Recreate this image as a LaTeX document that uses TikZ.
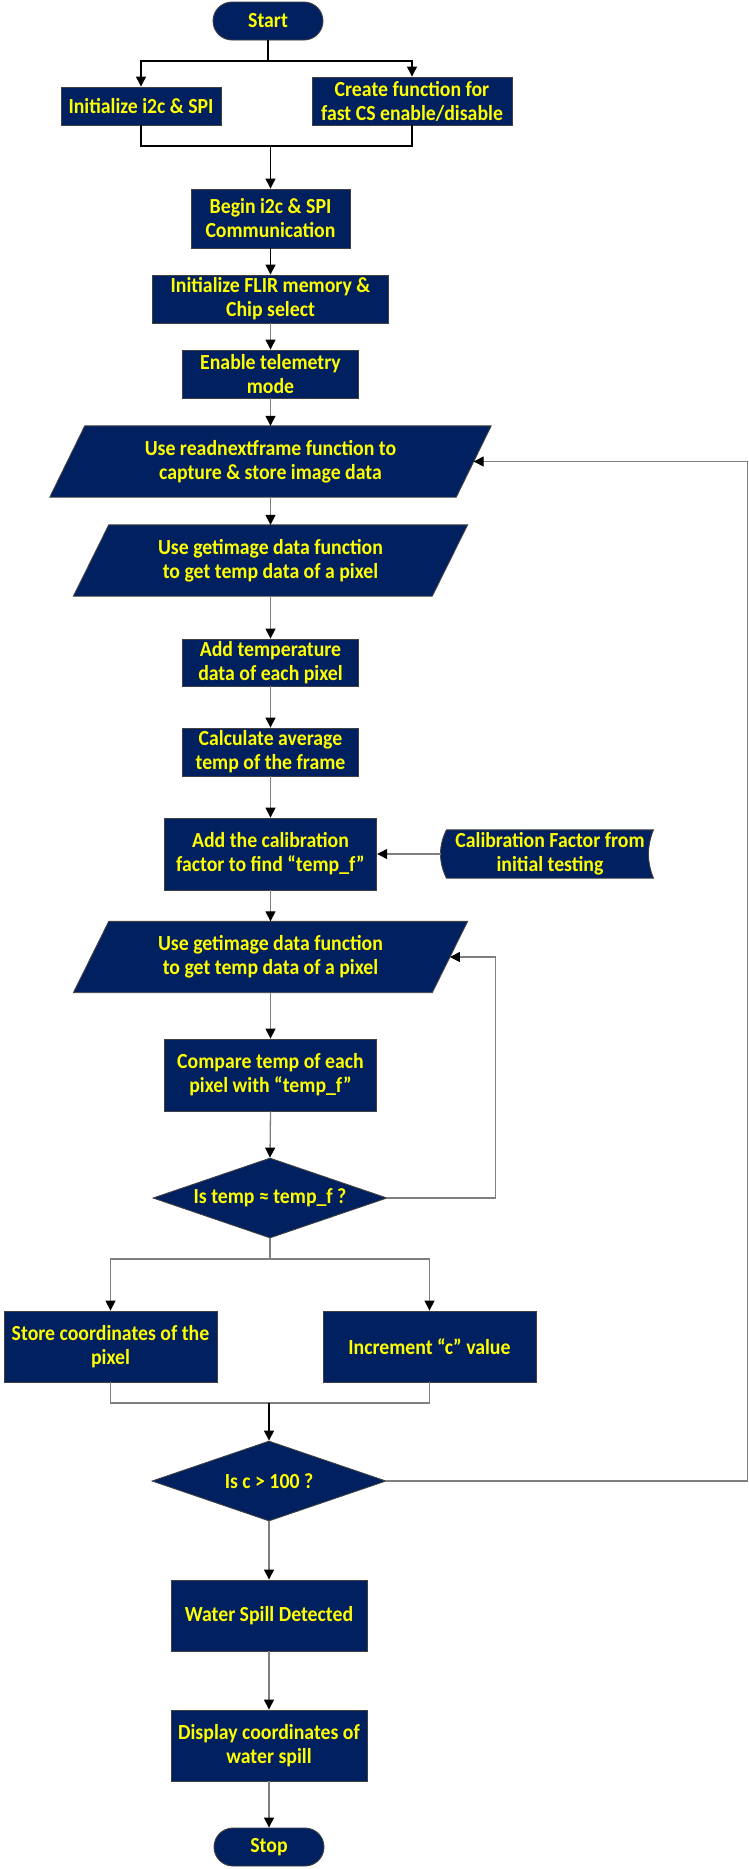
\documentclass[tikz,border=0pt]{standalone}
\usepackage{fontspec}
\setmainfont{Carlito}[FakeStretch=0.92]
\usetikzlibrary{arrows.meta,shapes.geometric,backgrounds}
\definecolor{navy}{HTML}{002060}
\definecolor{ylw}{HTML}{FFFF00}
\definecolor{edgec}{HTML}{404040}
\definecolor{connc}{HTML}{7F7F7F}
\begin{document}
\begin{tikzpicture}[x=1pt,y=-1pt,
  txt/.style={text=ylw,font=\fontsize{21.5}{24}\selectfont\bfseries,align=center,inner sep=0pt},
  box/.style={txt,draw=edgec,fill=navy,line width=0.9pt,rectangle},
  term/.style={box,rounded corners=19pt,minimum width=110pt,minimum height=38pt},
  dec/.style={txt,draw=edgec,fill=navy,line width=0.9pt,diamond,aspect=2.925,minimum width=234pt,minimum height=80pt},
  para/.style={txt,rectangle},
  shp/.style={draw=edgec,fill=navy,line width=0.9pt},
  tip/.style={-{Triangle[length=10pt,width=10pt,color=black]}},
  blk/.style={draw=black,line width=1.3pt},
  gry/.style={draw=connc,line width=1.3pt}
]
\useasboundingbox (0,0) rectangle (749,1869);

% nodes
\node[term] (start) at (268,21) {Start};
\node[box,minimum width=160pt,minimum height=38pt] (init) at (141,106) {Initialize i2c \& SPI};
\node[box,minimum width=200pt,minimum height=48pt] (create) at (412,101) {Create function for\\fast CS enable/disable};
\node[box,minimum width=159pt,minimum height=59pt] (begin) at (270.5,218.5) {Begin i2c \& SPI\\Communication};
\node[box,minimum width=236pt,minimum height=48pt] (flir) at (270.5,299) {Initialize FLIR memory \&\\Chip select};
\node[box,minimum width=176pt,minimum height=48pt] (telem) at (270.5,374) {Enable telemetry\\mode};
\node[para,minimum width=406pt,minimum height=71pt] (read) at (270.5,461.5) {Use readnextframe function to\\capture \& store image data};
\node[para,minimum width=358.4pt,minimum height=71pt] (get1) at (270.5,560.5) {Use getimage data function\\to get temp data of a pixel};
\node[box,minimum width=176pt,minimum height=47pt] (addtemp) at (270.5,662.5) {Add temperature\\data of each pixel};
\node[box,minimum width=176pt,minimum height=48pt] (calc) at (270.5,752) {Calculate average\\temp of the frame};
\node[box,minimum width=212.5pt,minimum height=72pt] (addcal) at (270.5,854) {Add the calibration\\factor to find “temp\_f”};
\node[para,minimum width=206.6pt,minimum height=48pt] (calfac) at (550,854) {Calibration Factor from\\initial testing};
\node[para,minimum width=358.4pt,minimum height=71pt] (get2) at (270.5,957) {Use getimage data function\\to get temp data of a pixel};
\node[box,minimum width=212.5pt,minimum height=72pt] (compare) at (270.5,1075) {Compare temp of each\\pixel with “temp\_f”};
\node[dec] (dec1) at (270,1198) {Is temp ≈ temp\_f ?};
\node[box,minimum width=213pt,minimum height=71pt] (store) at (110.5,1346.5) {Store coordinates of the\\pixel};
\node[box,minimum width=213pt,minimum height=71pt] (incr) at (429.5,1346.5) {Increment “c” value};
\node[dec] (dec2) at (269,1481) {Is c > 100 ?};
\node[box,minimum width=196pt,minimum height=71pt] (water) at (269,1615.5) {Water Spill Detected};
\node[box,minimum width=196pt,minimum height=71pt] (disp) at (269,1745.5) {Display coordinates of\\water spill};
\node[term] (stop) at (269,1847) {Stop};

% custom shapes behind texts
\begin{pgfonlayer}{background}
\foreach \n/\s in {read/17.5,get1/17.7,get2/17.7}{
  \path[shp] ([xshift=\s pt]\n.north west) -- ([xshift=\s pt]\n.north east)
     -- ([xshift=-\s pt]\n.south east) -- ([xshift=-\s pt]\n.south west) -- cycle;
}
\path[shp] (calfac.north west) -- (calfac.north east)
   .. controls ([shift={(-6.7,16)}]calfac.north east) and ([shift={(-6.7,-16)}]calfac.south east) .. (calfac.south east)
   -- (calfac.south west)
   .. controls ([shift={(-8,-16)}]calfac.south west) and ([shift={(-8,16)}]calfac.north west) .. (calfac.north west) -- cycle;
\end{pgfonlayer}

% coordinates
\coordinate (br1) at (268,61);
\coordinate (mg1) at (270.5,146);
\coordinate (sp1) at (270,1259);
\coordinate (mg2) at (269,1403);
\coordinate (lp1) at (747.5,1481);
\coordinate (lp2) at (495.5,1198);
\coordinate (calfacW) at ([xshift=-6pt]calfac.west);

% connectors
\draw[blk] (start.south) -- (br1);
\draw[blk,tip] (br1) -| (init.north);
\draw[blk,tip] (br1) -| (create.north);
\draw[blk] (init.south) |- (mg1);
\draw[blk] (create.south) |- (mg1);
\draw[blk,tip] (mg1) -- (begin.north);
\draw[blk,tip] (begin.south) -- (flir.north);
\draw[gry,tip] (flir.south) -- (telem.north);
\draw[gry,tip] (telem.south) -- (read.north);
\draw[gry,tip] (read.south) -- (get1.north);
\draw[gry,tip] (get1.south) -- (addtemp.north);
\draw[gry,tip] (addtemp.south) -- (calc.north);
\draw[gry,tip] (calc.south) -- (addcal.north);
\draw[gry,tip] (calfacW) -- (addcal.east);
\draw[gry,tip] (addcal.south) -- (get2.north);
\draw[gry,tip] (get2.south) -- (compare.north);
\draw[gry,tip] (compare.south) -- (dec1.north);
\draw[gry] (dec1.east) -- (lp2);
\draw[gry,tip] (lp2) |- (get2.east);
\draw[gry] (dec1.south) -- (sp1);
\draw[gry,tip] (sp1) -| (store.north);
\draw[gry,tip] (sp1) -| (incr.north);
\draw[gry] (store.south) |- (mg2);
\draw[gry] (incr.south) |- (mg2);
\draw[blk,tip] (mg2) -- (dec2.north);
\draw[gry] (dec2.east) -- (lp1);
\draw[gry,tip] (lp1) |- (read.east);
\draw[gry,tip] (dec2.south) -- (water.north);
\draw[gry,tip] (water.south) -- (disp.north);
\draw[gry,tip] (disp.south) -- (stop.north);
\end{tikzpicture}
\end{document}
